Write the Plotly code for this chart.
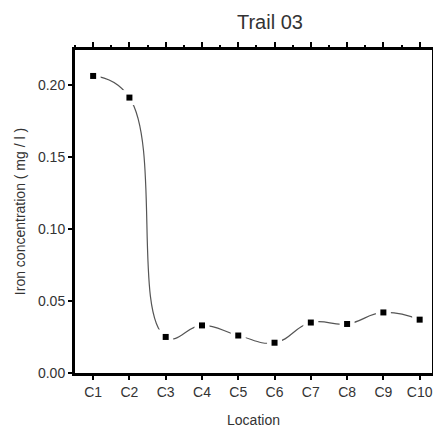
import plotly.graph_objects as go

categories = ["C1", "C2", "C3", "C4", "C5", "C6", "C7", "C8", "C9", "C10"]
iron = [0.206, 0.191, 0.025, 0.033, 0.026, 0.021, 0.035, 0.034, 0.042, 0.037]
positions = list(range(1, len(categories) + 1))

title_text = "Trail 03"
x_title = "Location"
y_title = "Iron concentration ( mg / l )"
y_ticks = [0.0, 0.05, 0.10, 0.15, 0.20]
y_ticktext = ["0.00", "0.05", "0.10", "0.15", "0.20"]

FONT = "Liberation Sans, Arial, sans-serif"
TXT = "#333333"

fig = go.Figure()
fig.add_trace(go.Scatter(x=positions, y=iron, mode="lines",
                         line=dict(shape="spline", smoothing=1.3, color="#555555", width=1.2),
                         hoverinfo="skip", showlegend=False))
fig.add_trace(go.Scatter(x=positions, y=iron, mode="markers",
                         marker=dict(symbol="square", size=15, color="white"),
                         hoverinfo="skip", showlegend=False))
fig.add_trace(go.Scatter(x=positions, y=iron, mode="markers",
                         marker=dict(symbol="square", size=6, color="black"),
                         showlegend=False))
fig.add_trace(go.Scatter(x=[None], y=[None], xaxis="x2", yaxis="y2", showlegend=False))

xr = [0.5, 10.34]
yr = [0, 0.224]

fig.update_layout(
    width=434, height=428,
    margin=dict(l=75, r=2, t=50, b=55, autoexpand=False),
    paper_bgcolor="white", plot_bgcolor="white",
    font=dict(family=FONT, color=TXT, size=14),
    title=dict(text=title_text, x=0.622, xanchor="center", y=0.949, yanchor="middle",
               font=dict(size=20, color=TXT)),
    xaxis=dict(range=xr, tickmode="array", tickvals=positions, ticktext=categories,
               showline=True, linewidth=3, linecolor="black", ticks="outside",
               ticklen=4, tickwidth=2, tickcolor="black", showgrid=False, zeroline=False,
               automargin=False,
               title=dict(text=x_title, font=dict(size=14), standoff=18),
               tickfont=dict(size=14)),
    xaxis2=dict(range=xr, overlaying="x", side="top", showticklabels=False,
                tickmode="linear", tick0=1, dtick=1, automargin=False,
                showline=True, linewidth=3, linecolor="black", ticks="outside",
                ticklen=5, tickwidth=2, tickcolor="black", showgrid=False, zeroline=False,
                minor=dict(ticks="outside", ticklen=2, tickwidth=2, tickcolor="black",
                           tick0=0.5, dtick=1, showgrid=False)),
    yaxis=dict(range=yr, tickmode="array", tickvals=y_ticks, ticktext=y_ticktext,
               showline=True, linewidth=3, linecolor="black", ticks="outside",
               ticklen=4, tickwidth=2, tickcolor="black", showgrid=False, zeroline=False,
               automargin=False,
               title=dict(text=y_title, font=dict(size=14), standoff=10),
               tickfont=dict(size=14)),
    yaxis2=dict(range=yr, overlaying="y", side="right", showticklabels=False,
                showline=True, linewidth=1, linecolor="black", ticks="",
                automargin=False, showgrid=False, zeroline=False),
)

fig.write_html("out.html", config={"displayModeBar": False},
               post_script="document.body.style.margin='0';")
